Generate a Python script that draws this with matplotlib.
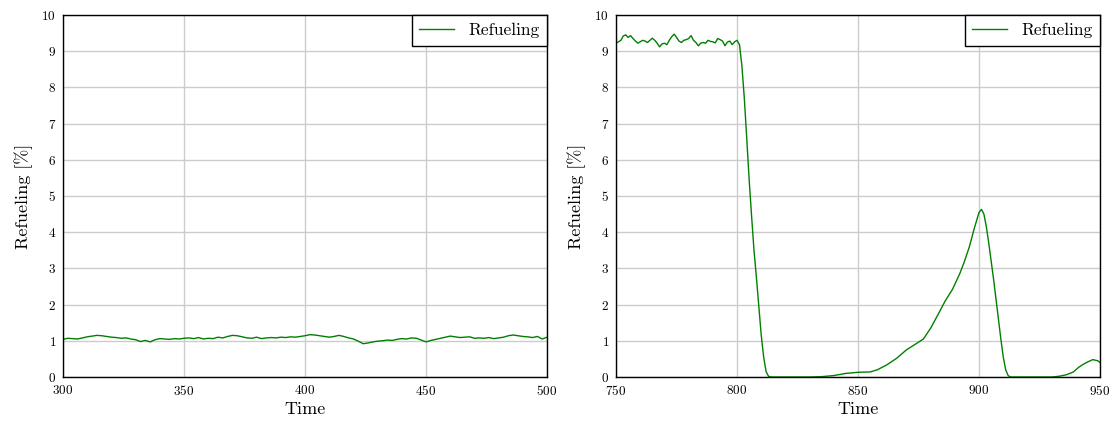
import numpy as np
import matplotlib.pyplot as plt

plt.rcParams['font.family'] = 'cmr10'
plt.rcParams['mathtext.fontset'] = 'cm'
plt.rcParams['axes.formatter.use_mathtext'] = True

# Refueling share, first window (t = 300..500, every 2 s)
time_a = np.arange(300, 501, 2)
refuel_a = [1.04, 1.07, 1.06, 1.05, 1.08, 1.11, 1.13, 1.15, 1.14, 1.12,
            1.10, 1.09, 1.07, 1.08, 1.05, 1.03, 0.98, 1.01, 0.97, 1.03,
            1.06, 1.05, 1.04, 1.06, 1.05, 1.07, 1.08, 1.06, 1.09, 1.05,
            1.07, 1.06, 1.10, 1.08, 1.12, 1.15, 1.14, 1.11, 1.08, 1.07,
            1.10, 1.06, 1.08, 1.09, 1.08, 1.10, 1.09, 1.11, 1.10, 1.12,
            1.14, 1.17, 1.16, 1.14, 1.12, 1.10, 1.12, 1.15, 1.12, 1.08,
            1.05, 0.99, 0.92, 0.94, 0.97, 0.99, 1.00, 1.02, 1.01, 1.04,
            1.06, 1.05, 1.08, 1.07, 1.02, 0.97, 1.01, 1.04, 1.07, 1.10,
            1.13, 1.11, 1.09, 1.10, 1.11, 1.07, 1.08, 1.07, 1.09, 1.06,
            1.08, 1.10, 1.14, 1.16, 1.14, 1.12, 1.11, 1.09, 1.12, 1.05,
            1.10]

# Refueling share, second window (t = 750..950)
time_b = [750, 751, 752, 753, 754, 755, 756, 757, 758, 759,
          760, 761, 762, 763, 764, 765, 766, 767, 768, 769,
          770, 771, 772, 773, 774, 775, 776, 777, 778, 779,
          780, 781, 782, 783, 784, 785, 786, 787, 788, 789,
          790, 791, 792, 793, 794, 795, 796, 797, 798, 799,
          800, 801, 802, 803, 804, 805, 806, 807, 808, 809,
          810, 811, 812, 813, 814, 820, 830, 835, 840, 845,
          850, 855, 858, 862, 866, 870, 874, 877, 880, 883,
          886, 889, 892, 894, 896, 898, 900, 901, 902, 903,
          904, 905, 906, 907, 908, 909, 910, 911, 912, 913,
          920, 930, 933, 936, 939, 941, 943, 945, 947, 949,
          950]
refuel_b = [9.22, 9.26, 9.30, 9.42, 9.45, 9.38, 9.43, 9.35, 9.28, 9.22,
            9.26, 9.30, 9.28, 9.24, 9.30, 9.36, 9.30, 9.22, 9.12, 9.20,
            9.22, 9.18, 9.30, 9.40, 9.47, 9.38, 9.28, 9.24, 9.30, 9.32,
            9.35, 9.43, 9.30, 9.24, 9.15, 9.22, 9.24, 9.22, 9.30, 9.27,
            9.26, 9.23, 9.35, 9.32, 9.28, 9.15, 9.25, 9.28, 9.18, 9.26,
            9.30, 9.18, 8.60, 7.70, 6.60, 5.45, 4.45, 3.50, 2.75, 1.95,
            1.15, 0.55, 0.15, 0.02, 0.00, 0.00, 0.00, 0.01, 0.04, 0.10,
            0.13, 0.14, 0.20, 0.34, 0.52, 0.75, 0.92, 1.05, 1.35, 1.72,
            2.10, 2.42, 2.85, 3.20, 3.60, 4.10, 4.55, 4.63, 4.50, 4.15,
            3.70, 3.20, 2.70, 2.15, 1.60, 1.05, 0.55, 0.20, 0.04, 0.00,
            0.00, 0.00, 0.02, 0.06, 0.14, 0.26, 0.35, 0.42, 0.48, 0.45,
            0.40]

fig = plt.figure(figsize=(11.14, 4.21), dpi=100)
ax1 = fig.add_axes([0.0566, 0.1045, 0.4345, 0.8599])
ax2 = fig.add_axes([0.553, 0.1045, 0.4345, 0.8599])

panels = [(ax1, time_a, refuel_a, (300, 500), [300, 350, 400, 450, 500]),
          (ax2, time_b, refuel_b, (750, 950), [750, 800, 850, 900, 950])]

for ax, t, r, xlim, xticks in panels:
    ax.plot(t, r, color='#008000', lw=1.0, label='Refueling')
    ax.set_xlim(*xlim)
    ax.set_ylim(0, 10)
    ax.set_xticks(xticks)
    ax.set_yticks(range(0, 11))
    ax.grid(True, color='#cccccc', lw=1.0)
    ax.set_axisbelow(True)
    ax.tick_params(length=0, labelsize=9.5, pad=5)
    for s in ax.spines.values():
        s.set_linewidth(1.0)
    ax.set_xlabel('Time', fontsize=13, labelpad=3)
    ax.set_ylabel('Refueling [%]', fontsize=13, labelpad=6)
    leg = ax.legend(loc='upper right', fontsize=12.5, fancybox=False,
                    edgecolor='black', borderaxespad=0, handlelength=2.0,
                    framealpha=1, borderpad=0.45)
    leg.get_frame().set_linewidth(1.0)

fig.savefig('out.png', dpi=100)
